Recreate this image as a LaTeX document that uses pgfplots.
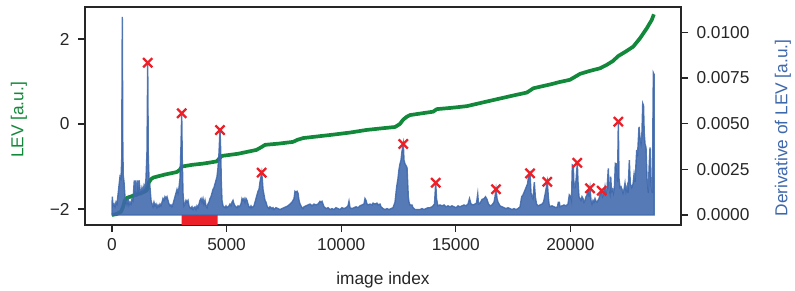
\documentclass[border=0pt]{standalone}
\usepackage{fontspec}
\setmainfont{Liberation Sans}
\usepackage{pgfplots}
\usepackage{pgfplotstable}
\pgfplotsset{compat=1.18}
\definecolor{levgreen}{RGB}{18,136,58}
\definecolor{derblue}{RGB}{62,104,172}
\definecolor{mkred}{RGB}{236,32,40}
\definecolor{framec}{RGB}{38,38,38}

% derivative of LEV, in units of 1e-3
\pgfplotstableread{
idx d
0 0.4
13 1.0
44 0.5
87 0.6
131 0.45
175 0.7
218 0.6
262 1.1
305 1.6
349 2.1
393 2.0
423 3.0
449 10.85
471 4.0
489 2.2
524 1.8
567 1.0
611 0.8
654 0.6
698 0.9
742 0.55
785 0.7
829 0.6
873 0.9
916 0.8
973 1.9
1003 1.0
1034 1.9
1069 1.0
1121 1.9
1148 1.2
1178 1.9
1222 1.4
1265 1.2
1309 1.5
1353 1.3
1396 1.6
1440 1.4
1483 2.0
1527 3.5
1558 8.34
1584 3.2
1614 2.0
1658 1.5
1702 0.8
1745 0.6
1789 0.45
1832 0.7
1876 0.5
1920 0.6
1963 0.4
2007 0.55
2051 0.45
2094 0.6
2138 0.5
2182 0.7
2225 0.9
2269 0.8
2312 1.0
2356 0.9
2400 1.0
2443 0.8
2487 0.6
2531 0.5
2574 0.55
2618 0.45
2661 0.6
2705 0.8
2749 1.0
2792 1.2
2836 1.4
2880 1.2
2923 1.5
2967 2.0
3010 3.8
3041 5.57
3067 3.0
3098 1.2
3141 0.5
3185 0.6
3229 0.8
3272 0.7
3316 0.8
3359 0.5
3403 0.4
3447 0.35
3490 0.45
3534 0.3
3578 0.4
3621 0.45
3665 0.3
3709 0.5
3752 0.4
3796 0.6
3839 0.8
3883 0.9
3927 0.7
3970 0.9
4014 0.6
4058 0.8
4101 0.5
4145 0.4
4188 0.6
4232 0.7
4276 0.9
4319 1.0
4363 1.2
4407 1.4
4450 1.5
4494 1.7
4538 1.9
4581 2.1
4625 2.6
4668 3.4
4712 4.65
4743 3.5
4769 1.8
4799 0.8
4843 0.5
4887 0.45
4930 0.4
4974 0.5
5017 0.4
5061 0.45
5105 0.5
5148 0.6
5192 0.5
5236 0.7
5279 0.8
5323 0.6
5366 0.5
5410 0.45
5454 0.4
5497 0.5
5541 0.45
5585 0.5
5628 0.6
5672 0.9
5715 0.8
5759 0.9
5803 0.7
5846 0.9
5890 0.8
5934 0.6
5977 0.45
6021 0.4
6065 0.5
6108 0.4
6152 0.45
6195 0.5
6239 0.7
6283 0.9
6326 1.1
6370 1.3
6414 1.4
6457 1.8
6531 2.32
6566 1.8
6588 1.4
6632 1.1
6675 0.8
6719 0.7
6763 0.5
6806 0.4
6850 0.35
6893 0.45
6981 0.35
7024 0.4
7068 0.3
7112 0.35
7155 0.4
7242 0.35
7330 0.3
7417 0.35
7504 0.4
7592 0.45
7679 0.5
7766 0.6
7853 0.7
7941 0.9
7984 1.3
8028 1.25
8072 1.3
8115 1.2
8159 0.8
8202 0.6
8246 0.5
8290 0.4
8333 0.35
8377 0.45
8464 0.5
8551 0.55
8639 0.6
8726 0.5
8813 0.6
8901 0.55
8988 0.6
9075 0.75
9119 0.7
9162 0.75
9206 0.6
9250 0.45
9337 0.35
9424 0.4
9511 0.3
9599 0.35
9686 0.3
9773 0.4
9860 0.35
9948 0.3
10035 0.4
10122 0.35
10209 0.4
10297 0.5
10340 0.75
10384 0.4
10471 0.35
10558 0.4
10646 0.45
10733 0.4
10820 0.5
10908 0.55
10995 0.6
11038 0.9
11082 0.8
11126 0.6
11169 0.55
11257 0.6
11344 0.55
11387 0.65
11475 0.6
11562 0.65
11606 0.55
11693 0.6
11736 0.45
11824 0.35
11911 0.3
11998 0.35
12086 0.3
12173 0.35
12260 0.4
12347 0.7
12421 1.55
12478 2.0
12522 2.5
12565 2.8
12609 3.0
12653 3.5
12709 3.89
12740 3.0
12783 2.8
12827 2.7
12871 2.6
12927 1.0
12958 0.7
13002 0.55
13089 0.55
13132 0.4
13220 0.3
13351 0.3
13438 0.3
13525 0.35
13613 0.3
13700 0.35
13787 0.4
13874 0.4
13962 0.45
14005 0.5
14071 0.6
14123 1.77
14158 0.9
14202 0.6
14223 0.5
14311 0.55
14398 0.5
14485 0.55
14572 0.45
14660 0.5
14747 0.45
14834 0.5
14921 0.45
15009 0.4
15096 0.5
15183 0.45
15271 0.5
15358 0.55
15445 0.5
15532 0.6
15598 0.9
15663 0.6
15751 0.55
15838 0.6
15903 0.65
15956 1.15
15990 0.6
16056 0.65
16143 0.85
16230 0.9
16296 1.0
16361 0.85
16427 0.6
16492 0.5
16579 0.55
16667 0.7
16710 1.0
16754 1.41
16798 0.9
16841 0.7
16928 0.5
17016 0.45
17103 0.4
17190 0.35
17277 0.4
17365 0.35
17452 0.3
17539 0.35
17627 0.3
17714 0.35
17801 0.45
17875 1.0
17932 1.1
17998 1.3
18063 1.5
18129 1.7
18172 2.1
18237 2.28
18281 1.2
18325 1.0
18368 0.9
18425 1.8
18469 1.0
18521 0.6
18586 0.5
18674 0.55
18761 0.6
18826 0.7
18892 1.1
18935 1.4
18992 1.82
19036 1.0
19067 0.6
19110 0.45
19197 0.5
19284 0.45
19372 0.4
19437 0.45
19472 0.7
19516 0.7
19546 0.45
19634 0.5
19721 0.55
19808 0.5
19895 0.6
19952 1.1
20013 1.0
20048 0.8
20083 2.74
20127 2.7
20157 1.5
20201 1.5
20245 1.9
20301 2.86
20332 1.8
20375 1.0
20419 0.9
20462 0.8
20506 1.0
20550 0.9
20593 0.7
20637 0.8
20681 1.0
20724 1.1
20790 1.4
20811 1.0
20855 1.46
20899 0.8
20942 0.6
20986 0.8
21030 0.7
21073 0.9
21117 0.75
21160 0.7
21204 0.8
21248 0.9
21291 1.1
21365 1.33
21400 1.0
21444 1.1
21466 1.2
21510 1.55
21553 1.2
21597 1.4
21653 2.55
21684 1.5
21727 1.2
21758 2.1
21793 1.3
21837 1.4
21880 1.2
21924 1.6
21959 2.83
22011 2.8
22055 1.8
22090 5.11
22120 2.0
22164 1.5
22208 1.55
22251 1.4
22295 1.2
22339 1.4
22382 1.75
22426 1.3
22483 1.6
22513 1.2
22570 3.0
22614 1.7
22675 1.5
22732 1.7
22775 2.2
22819 1.8
22893 3.56
22928 3.2
22950 3.8
22993 4.83
23037 4.2
23081 3.9
23116 4.3
23155 6.11
23190 6.0
23220 4.5
23255 3.9
23298 3.7
23342 2.0
23399 1.2
23430 2.5
23473 3.7
23517 1.6
23574 1.2
23617 7.79
23650 7.7
}\derivtable

\pgfplotstableread{
idx lev
0 -2.14
200 -2.12
400 -2.06
480 -1.95
560 -1.80
650 -1.74
900 -1.69
1300 -1.62
1500 -1.57
1560 -1.50
1600 -1.38
1700 -1.30
1800 -1.26
2300 -1.19
2830 -1.13
2950 -1.08
3050 -1.00
3500 -0.96
4000 -0.93
4570 -0.88
4700 -0.80
4800 -0.75
5500 -0.70
6300 -0.61
6500 -0.55
6680 -0.49
7300 -0.46
7900 -0.42
8100 -0.37
8350 -0.33
9000 -0.29
9650 -0.25
10400 -0.20
11100 -0.14
11800 -0.10
12350 -0.07
12560 0.00
12700 0.10
12860 0.17
13000 0.21
13500 0.25
14010 0.29
14170 0.35
14800 0.38
15480 0.42
16200 0.51
16930 0.60
17500 0.67
18100 0.74
18380 0.84
18700 0.88
19110 0.93
19550 0.99
19980 1.04
20420 1.18
20850 1.25
21290 1.31
21580 1.39
21850 1.48
22090 1.60
22400 1.70
22740 1.82
23040 2.02
23330 2.25
23550 2.45
23640 2.58
}\levtable

\begin{document}
\begin{tikzpicture}[font=\fontsize{17.3bp}{20bp}\selectfont]
\pgfplotsset{
  common/.style={
    scale only axis, width=596bp, height=218bp,
    xmin=-1178, xmax=24825,
    at={(0,0)}, anchor=south west,
    axis line style={framec, line width=1.6bp},
    major tick length=7bp,
    every tick/.style={framec, line width=1.3bp},
    tick align=outside,
    scaled x ticks=false, scaled y ticks=false,
    /pgf/number format/assume math mode=true,
    ticklabel style={font=\fontsize{17.3bp}{20bp}\selectfont, text=framec},
  }
}
\begin{axis}[common,
  ymin=-2.376, ymax=2.753,
  ytick={-2,0,2}, yticklabels={−2,0,2},
  xtick={0,5000,10000,15000,20000},
  xticklabels={0,5000,10000,15000,20000},
  xtick pos=bottom, ytick pos=left,
  yticklabel style={xshift=-5bp},
  xticklabel style={yshift=-3bp},
]
\addplot[levgreen, line width=3.7bp, line join=round] table[x=idx, y=lev] {\levtable};
\end{axis}
\begin{axis}[common,
  ymin=-0.547, ymax=11.39,
  axis y line*=right, axis x line=none,
  ytick={0,2.5,5,7.5,10},
  yticklabels={0.0000,0.0025,0.0050,0.0075,0.0100},
  yticklabel style={xshift=5bp},
]
\addplot[draw=derblue, fill=derblue, fill opacity=0.88, draw opacity=0.88, line width=1.4bp, line join=miter] table[x=idx, y=d] {\derivtable} \closedcycle;
\addplot[fill=mkred, draw=none] coordinates {(3040,-1) (4610,-1) (4610,0) (3040,0) (3040,-1)};
\addplot[only marks, mark=x, mark size=6.5bp, color=mkred, mark options={line width=2.3bp}] coordinates {
(1558,8.34) (3041,5.57) (4712,4.65) (6531,2.32) (12709,3.89) (14123,1.77)
(16754,1.41) (18237,2.28) (18992,1.82) (20301,2.86) (20855,1.46) (21365,1.33) (22090,5.11)
};
\end{axis}
\node[rotate=90, text=levgreen] at (-66bp,105bp) {LEV [a.u.]};
\node[rotate=90, text=derblue] at (698bp,97bp) {Derivative of LEV [a.u.]};
\node[text=framec] at (298bp,-55bp) {image index};
\pgfresetboundingbox
\path[use as bounding box] (-85bp,-66bp) rectangle (710bp,225bp);
\end{tikzpicture}
\end{document}
